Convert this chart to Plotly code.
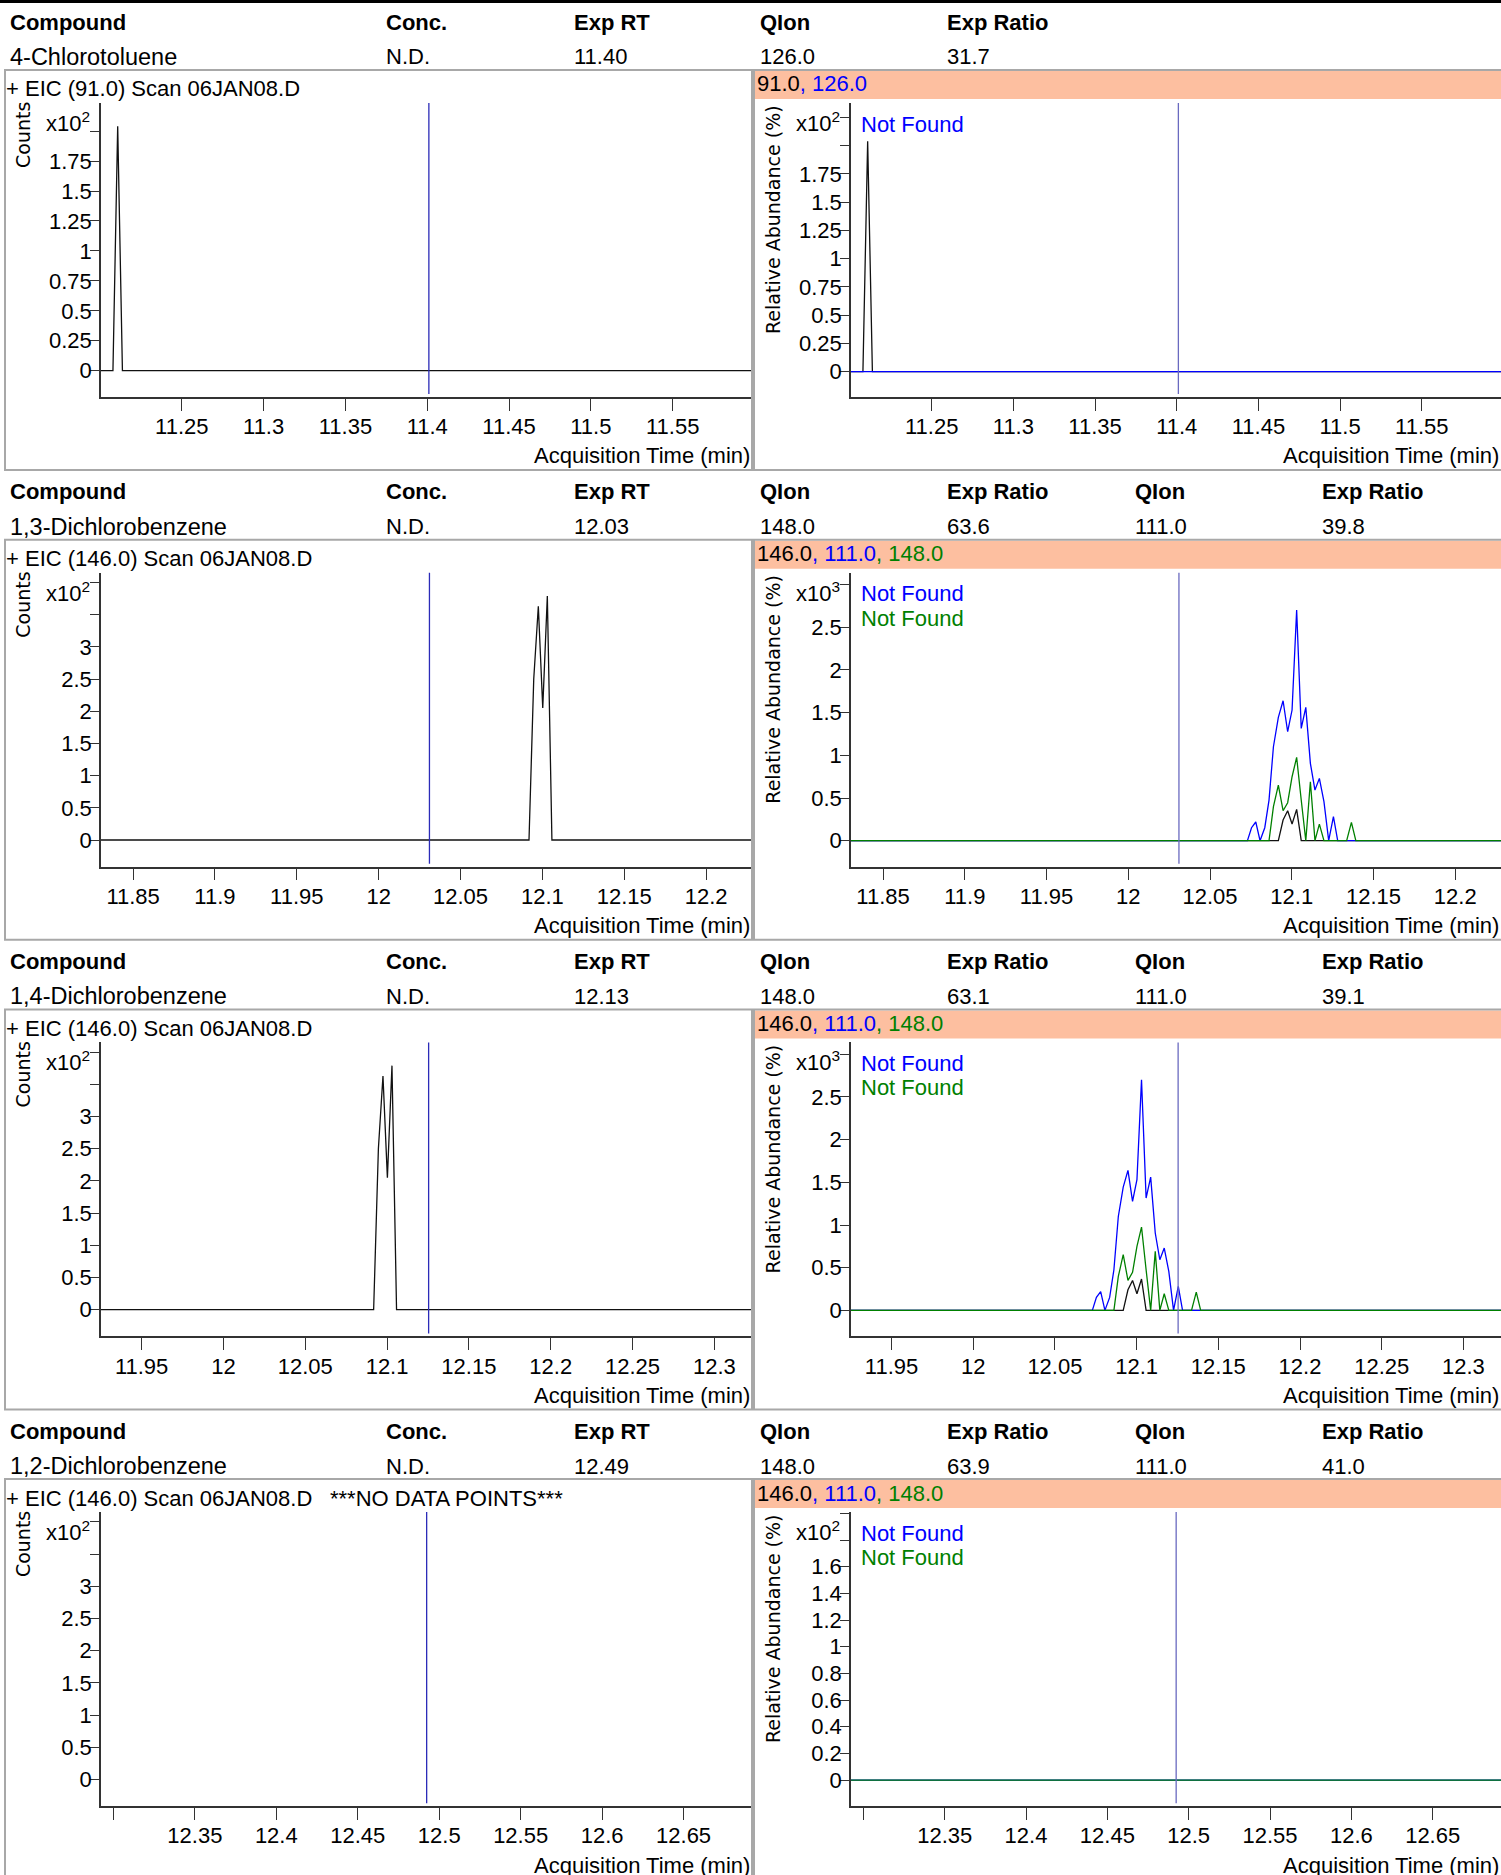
import plotly.graph_objects as go

W, H = 1501, 1875
ROW_PITCH = 469.7

# ---------------- header table data ----------------
compounds = ["4-Chlorotoluene", "1,3-Dichlorobenzene", "1,4-Dichlorobenzene", "1,2-Dichlorobenzene"]
conc = ["N.D.", "N.D.", "N.D.", "N.D."]
exp_rt_text = ["11.40", "12.03", "12.13", "12.49"]
qion1 = ["126.0", "148.0", "148.0", "148.0"]
exp_ratio1 = ["31.7", "63.6", "63.1", "63.9"]
qion2 = [None, "111.0", "111.0", "111.0"]
exp_ratio2 = [None, "39.8", "39.1", "41.0"]
target_ion = ["91.0", "146.0", "146.0", "146.0"]
qual_ions = [["126.0"], ["111.0", "148.0"], ["111.0", "148.0"], ["111.0", "148.0"]]
no_data = [False, False, False, True]

# retention time marker (min) and displayed time window per compound
rt_marker = [11.401, 12.031, 12.1254, 12.4923]
x_window = [[11.2006, 11.5985], [11.8304, 12.228], [11.9252, 12.323], [12.2924, 12.692]]

# ---------------- chromatogram data ----------------
# 4-Chlorotoluene window (EIC 91)
t91 = [11.2006, 11.2079, 11.2108, 11.2137, 11.5985]
eic91 = [0, 0, 2.04, 0, 0]            # counts x10^2
ratio91 = [0, 0, 2.04, 0, 0]          # % x10^2
ratio126 = [0, 0, 0, 0, 0]            # % x10^2

# dichlorobenzene windows (EIC 146, same scan data)
t146 = [11.830, 12.0729, 12.0754, 12.0780, 12.0806, 12.0835, 12.0861, 12.0888, 12.0918,
        12.0947, 12.0975, 12.1002, 12.1030, 12.1058, 12.1086, 12.1114, 12.1142, 12.1169,
        12.1197, 12.1226, 12.1255, 12.1281, 12.1309, 12.1336, 12.1365, 12.1392, 12.330]
eic146 = [0, 0, 0, 0, 0, 0, 0, 0, 0,
          2.5, 3.63, 2.05, 3.79, 0, 0, 0, 0, 0,
          0, 0, 0, 0, 0, 0, 0, 0, 0]          # counts x10^2
ratio146 = [0, 0, 0, 0, 0, 0, 0, 0, 0,
            0.242, 0.351, 0.195, 0.367, 0, 0, 0, 0, 0,
            0, 0, 0, 0, 0, 0, 0, 0, 0]        # % x10^3
ratio111 = [0, 0, 0.152, 0.219, 0, 0.152, 0.476, 1.10, 1.444,
            1.639, 1.276, 1.530, 2.70, 1.315, 1.561, 0.906, 0.593, 0.730,
            0.457, 0, 0.281, 0, 0, 0, 0, 0, 0]  # % x10^3
ratio148 = [0, 0, 0, 0, 0, 0, 0, 0.398, 0.652,
            0.351, 0.445, 0.749, 0.976, 0.476, 0, 0.691, 0, 0.195,
            0, 0, 0, 0, 0, 0, 0.215, 0, 0]      # % x10^3

# 1,2-Dichlorobenzene window
t_row4 = [12.2924, 12.692]
ratio111_row4 = [0, 0]
ratio148_row4 = [0, 0]

# ---------------- axis tick data ----------------
x_ticks = [
    [11.25, 11.30, 11.35, 11.40, 11.45, 11.50, 11.55],
    [11.85, 11.90, 11.95, 12.00, 12.05, 12.10, 12.15, 12.20],
    [11.95, 12.00, 12.05, 12.10, 12.15, 12.20, 12.25, 12.30],
    [12.35, 12.40, 12.45, 12.50, 12.55, 12.60, 12.65],
]
x_ticktext = [
    ["11.25", "11.3", "11.35", "11.4", "11.45", "11.5", "11.55"],
    ["11.85", "11.9", "11.95", "12", "12.05", "12.1", "12.15", "12.2"],
    ["11.95", "12", "12.05", "12.1", "12.15", "12.2", "12.25", "12.3"],
    ["12.35", "12.4", "12.45", "12.5", "12.55", "12.6", "12.65"],
]
x_unlabeled = [[], [], [], [12.30]]

left_yticks = [
    [0, 0.25, 0.5, 0.75, 1, 1.25, 1.5, 1.75],
    [0, 0.5, 1, 1.5, 2, 2.5, 3],
    [0, 0.5, 1, 1.5, 2, 2.5, 3],
    [0, 0.5, 1, 1.5, 2, 2.5, 3],
]
left_ytext = [
    ["0", "0.25", "0.5", "0.75", "1", "1.25", "1.5", "1.75"],
    ["0", "0.5", "1", "1.5", "2", "2.5", "3"],
    ["0", "0.5", "1", "1.5", "2", "2.5", "3"],
    ["0", "0.5", "1", "1.5", "2", "2.5", "3"],
]
left_yunlabeled = [[2.0], [3.5, 4.0], [3.5, 4.0], [3.5, 4.0]]

right_yticks = [
    [0, 0.25, 0.5, 0.75, 1, 1.25, 1.5, 1.75],
    [0, 0.5, 1, 1.5, 2, 2.5],
    [0, 0.5, 1, 1.5, 2, 2.5],
    [0, 0.2, 0.4, 0.6, 0.8, 1, 1.2, 1.4, 1.6],
]
right_ytext = [
    ["0", "0.25", "0.5", "0.75", "1", "1.25", "1.5", "1.75"],
    ["0", "0.5", "1", "1.5", "2", "2.5"],
    ["0", "0.5", "1", "1.5", "2", "2.5"],
    ["0", "0.2", "0.4", "0.6", "0.8", "1", "1.2", "1.4", "1.6"],
]
right_yunlabeled = [[2.0, 2.25], [3.0], [3.0], [1.8, 2.0]]

left_yrange = [[-0.2195, 2.2346], [-0.4146, 4.151], [-0.4146, 4.151], [-0.4146, 4.151]]
right_yrange = [[-0.2239, 2.378], [-0.3044, 3.138], [-0.3044, 3.138], [-0.195, 2.0098]]
left_exp = ["2", "2", "2", "2"]
right_exp = ["2", "3", "3", "2"]

# ---------------- style ----------------
FONT = "Liberation Sans, Arial, sans-serif"
AXFONT = "DejaVu Sans, Verdana, sans-serif"
FS = 22
AXIS_COL = "#333333"
BOX_COL = "#A8A8A8"
SALMON = "#FDBFA0"
BLUE = "#0000FF"
GREEN = "#008000"
BLACK = "#111111"


def X(p):
    return p / W


def Y(p):
    return 1 - p / H


fig = go.Figure()
layout = dict(
    width=W, height=H, margin=dict(l=0, r=0, t=0, b=0),
    paper_bgcolor="white", plot_bgcolor="white", showlegend=False,
    font=dict(family=FONT, size=FS, color="black"),
)
annotations = []
shapes = []

# top rule
shapes.append(dict(type="rect", xref="paper", yref="paper", x0=0, x1=1, y0=Y(3), y1=1,
                   fillcolor="black", line=dict(width=0), layer="above"))


def ann(x, y, text, color="black", size=FS, xanchor="left", yanchor="middle", bold=False,
        family=FONT, angle=0):
    if bold:
        text = "<b>" + text + "</b>"
    annotations.append(dict(x=X(x), y=Y(y), xref="paper", yref="paper", text=text,
                            showarrow=False, xanchor=xanchor, yanchor=yanchor,
                            textangle=angle, borderpad=0,
                            font=dict(family=family, size=size, color=color)))


header_x = [9, 385, 573, 759, 946, 1134, 1321]

for r in range(4):
    off = r * ROW_PITCH
    # header table
    heads = ["Compound", "Conc.", "Exp RT", "QIon", "Exp Ratio"]
    vals = [compounds[r], conc[r], exp_rt_text[r], qion1[r], exp_ratio1[r]]
    if qion2[r] is not None:
        heads += ["QIon", "Exp Ratio"]
        vals += [qion2[r], exp_ratio2[r]]
    for i, (h, v) in enumerate(zip(heads, vals)):
        ann(header_x[i], off + 22, h, bold=True)
        ann(header_x[i], off + 57, v, size=(23.5 if i == 0 else FS))

    # panel boxes
    shapes.append(dict(type="rect", xref="paper", yref="paper", x0=X(5), x1=X(752),
                       y0=Y(off + 470), y1=Y(off + 70), line=dict(color=BOX_COL, width=2)))
    shapes.append(dict(type="rect", xref="paper", yref="paper", x0=X(754), x1=X(1503),
                       y0=Y(off + 470), y1=Y(off + 70), line=dict(color=BOX_COL, width=2)))
    shapes.append(dict(type="rect", xref="paper", yref="paper", x0=X(755), x1=X(1501),
                       y0=Y(off + 99), y1=Y(off + 71), fillcolor=SALMON, line=dict(width=0),
                       layer="below"))

    # titles
    ann(5, off + 89, "+ EIC (%s) Scan 06JAN08.D" % target_ion[r])
    if no_data[r]:
        ann(329, off + 89, "***NO DATA POINTS***")
    lab = '<span style="color:black">%s</span>' % target_ion[r]
    cols = [BLUE, GREEN]
    for k, q in enumerate(qual_ions[r]):
        lab += '<span style="color:%s">, %s</span>' % (cols[k], q)
    ann(756, off + 84, lab)
    for k in range(len(qual_ions[r])):
        ann(860, off + 124 + 24.5 * k, "Not Found", color=cols[k])

    # axis titles
    ann(23, off + 135, "Counts", size=19, family=AXFONT, xanchor="center", angle=-90)
    ann(773, off + 220, "Relative Abundance (%)", size=19, family=AXFONT, xanchor="center",
        angle=-90)
    ann(91, off + 122, "x10<sup>%s</sup>" % left_exp[r], xanchor="right")
    ann(841, off + 122, "x10<sup>%s</sup>" % right_exp[r], xanchor="right")
    ann(751, off + 456, "Acquisition Time (min)", xanchor="right")
    ann(1500, off + 456, "Acquisition Time (min)", xanchor="right")

    # axes
    ydom = [Y(off + 397), Y(off + 103)]
    for side in range(2):
        n = 2 * r + side + 1
        sfx = "" if n == 1 else str(n)
        xdom = [X(101), X(752)] if side == 0 else [X(851), X(1501)]
        xaxis = dict(
            domain=xdom, range=x_window[r], anchor="y" + sfx, showgrid=False, zeroline=False,
            showline=True, linecolor=AXIS_COL, linewidth=1.5, ticks="outside", ticklen=12,
            tickwidth=1.2, tickcolor=AXIS_COL, tickmode="array", tickvals=x_ticks[r],
            ticktext=x_ticktext[r], tickfont=dict(size=FS, family=FONT, color="black"),
            fixedrange=True, ticklabelstandoff=-3)
        if x_unlabeled[r]:
            xaxis["minor"] = dict(tickmode="array", tickvals=x_unlabeled[r], ticks="outside",
                                  ticklen=12, tickwidth=1.2, tickcolor=AXIS_COL, showgrid=False)
        layout["xaxis" + sfx] = xaxis
        yt = left_yticks[r] if side == 0 else right_yticks[r]
        ytt = left_ytext[r] if side == 0 else right_ytext[r]
        yu = left_yunlabeled[r] if side == 0 else right_yunlabeled[r]
        yr = left_yrange[r] if side == 0 else right_yrange[r]
        layout["yaxis" + sfx] = dict(
            domain=ydom, range=yr, anchor="x" + sfx, showgrid=False, zeroline=False,
            showline=True, linecolor=AXIS_COL, linewidth=1.5, ticks="outside", ticklen=9,
            tickwidth=1.2, tickcolor=AXIS_COL, tickmode="array", tickvals=yt, ticktext=ytt,
            tickfont=dict(size=FS, family=FONT, color="black"), fixedrange=True,
            ticklabelstandoff=-6,
            minor=dict(tickmode="array", tickvals=yu, ticks="outside", ticklen=9,
                       tickwidth=1.2, tickcolor=AXIS_COL, showgrid=False))
        # expected RT marker
        shapes.append(dict(type="line", xref="x" + sfx, yref="y" + sfx + " domain",
                           x0=rt_marker[r], x1=rt_marker[r], y0=0.01, y1=1,
                           line=dict(color="#2B2BB8" if side == 0 else "#6A6AC0", width=1.3)))


def line(x, y, color, ax):
    fig.add_trace(go.Scatter(x=x, y=y, mode="lines", line=dict(color=color, width=1.3),
                             xaxis="x" + ax, yaxis="y" + ax, hoverinfo="skip"))


# row 1
line(t91, eic91, BLACK, "")
line(t91, ratio91, BLACK, "2")
line(t91, ratio126, BLUE, "2")
# row 2
line(t146, eic146, BLACK, "3")
line(t146, ratio146, BLACK, "4")
line(t146, ratio111, BLUE, "4")
line(t146, ratio148, GREEN, "4")
# row 3
line(t146, eic146, BLACK, "5")
line(t146, ratio146, BLACK, "6")
line(t146, ratio111, BLUE, "6")
line(t146, ratio148, GREEN, "6")
# row 4
fig.add_trace(go.Scatter(x=[], y=[], mode="lines", xaxis="x7", yaxis="y7"))
line(t_row4, ratio111_row4, BLUE, "8")
line(t_row4, ratio148_row4, GREEN, "8")

layout["annotations"] = annotations
layout["shapes"] = shapes
fig.update_layout(**layout)
fig.write_html("out.html", config={"displayModeBar": False},
               post_script="document.body.style.margin='0';document.body.style.overflow='hidden';")
